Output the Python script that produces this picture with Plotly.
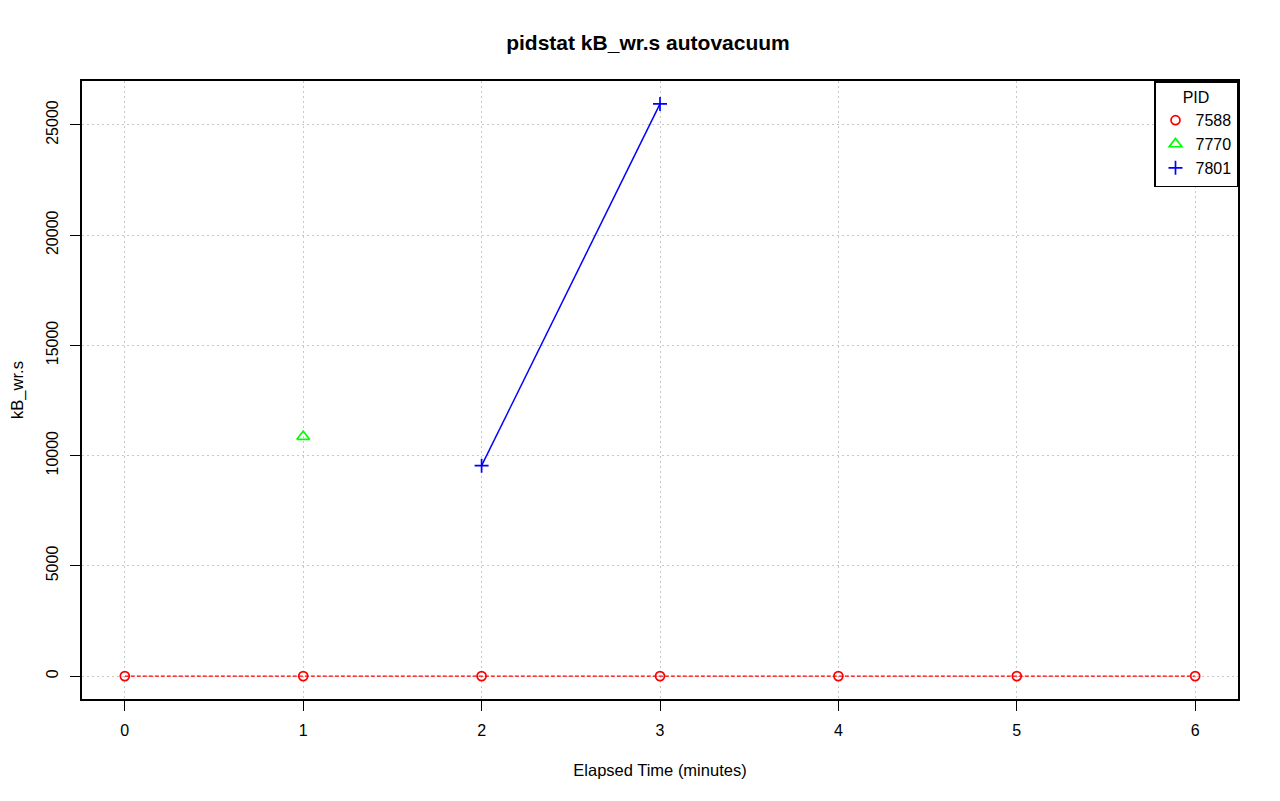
import plotly.graph_objects as go

minutes = [0, 1, 2, 3, 4, 5, 6]
pid_7588 = [0, 0, 0, 0, 0, 0, 0]
x_7770 = [1]
pid_7770 = [10864]
x_7801 = [2, 3]
pid_7801 = [9545, 25955]
x_ticks = [0, 1, 2, 3, 4, 5, 6]
y_ticks = [0, 5000, 10000, 15000, 20000, 25000]

RED, GREEN, BLUE = "#ff0000", "#00ff00", "#0000ff"
m_red = dict(symbol="circle-open", size=9, color=RED, line=dict(width=1.7))
m_green = dict(symbol="triangle-up-open", size=11, color=GREEN, line=dict(width=1.7))
m_blue = dict(symbol="cross-thin-open", size=10, color=BLUE, line=dict(width=1.7))

fig = go.Figure()
fig.add_trace(go.Scatter(x=minutes, y=pid_7588, mode="lines+markers", showlegend=False,
                         line=dict(color=RED, width=1.2, dash="4px,2px"), marker=m_red))
fig.add_trace(go.Scatter(x=x_7770, y=pid_7770, mode="markers", showlegend=False, marker=m_green))
fig.add_trace(go.Scatter(x=x_7801, y=pid_7801, mode="lines+markers", showlegend=False,
                         line=dict(color=BLUE, width=1.5), marker=m_blue))
# legend entries (markers only, like the reference)
for name, m in (("7588", m_red), ("7770", m_green), ("7801", m_blue)):
    fig.add_trace(go.Scatter(x=[None], y=[None], name=name, mode="markers", marker=m))

font = "Liberation Sans, Arial, Helvetica, sans-serif"
fig.update_layout(
    width=1280, height=801,
    paper_bgcolor="white", plot_bgcolor="white",
    margin=dict(l=74, r=50, t=73, b=110),
    font=dict(family=font, size=16.5, color="black"),
    title=dict(text="<b>pidstat kB_wr.s autovacuum</b>", x=0.5, xanchor="center",
               y=1 - 35 / 801, yanchor="middle", font=dict(size=21, family=font)),
    showlegend=True,
    legend=dict(title=dict(text="PID", side="top center", font=dict(size=16)),
                x=1, y=1, xanchor="right", yanchor="top",
                bordercolor="black", borderwidth=1.5, bgcolor="white",
                font=dict(size=16), tracegroupgap=0, itemwidth=30),
)
grid = dict(showgrid=True, gridcolor="#c8c8c8", griddash="1.5px,3.5px", gridwidth=1.3, zeroline=False,
            showline=True, mirror=True, linecolor="black", linewidth=1.5, automargin=False,
            ticks="outside", ticklen=10, tickwidth=1.2, tickcolor="black",
            tickfont=dict(size=16))
fig.update_xaxes(range=[-0.24, 6.24], tickvals=x_ticks, ticklabelstandoff=6,
                 title=dict(text="Elapsed Time (minutes)", standoff=26, font=dict(size=16.5)), **grid)
fig.update_yaxes(range=[-1038, 26993], tickvals=y_ticks, tickformat="d", tickangle=-90,
                 ticklabelstandoff=6,
                 title=dict(text="kB_wr.s", standoff=35, font=dict(size=16.5)), **grid)

fig.write_html("out.html")
